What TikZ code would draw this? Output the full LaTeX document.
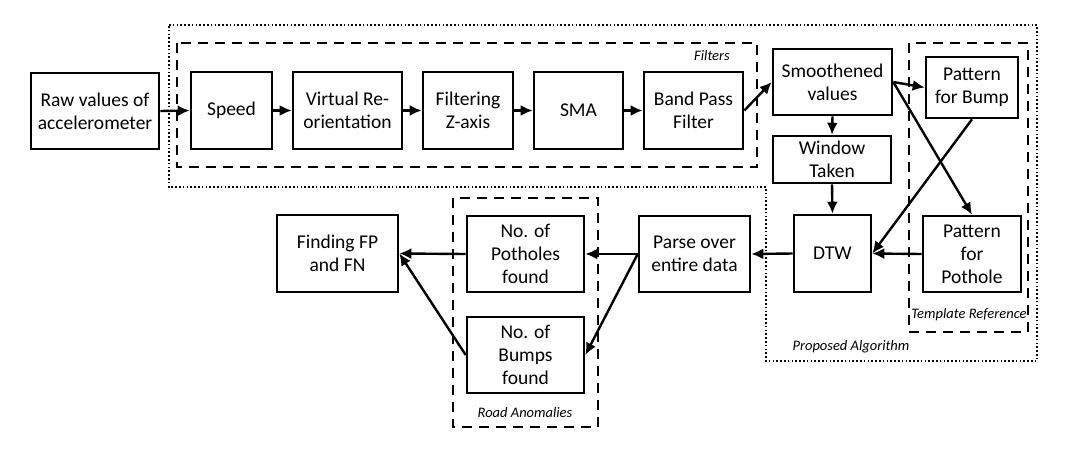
\documentclass[tikz,border=0pt]{standalone}
\usepackage{fontspec}
\setmainfont{Carlito}
\usetikzlibrary{arrows.meta}
\begin{document}
\begin{tikzpicture}[x=1pt,y=-1pt,
  box/.style={draw=black,line width=2.6pt,fill=white,align=center,inner sep=2pt,
    font=\fontsize{19.5}{23}\selectfont},
  arr/.style={line width=2.4pt,-{Latex[length=12pt,width=11pt]}},
  dotbox/.style={line width=2.4pt,dash pattern=on 1.6pt off 2.2pt},
  dashbox/.style={line width=2.8pt,dash pattern=on 10pt off 7pt},
  lab/.style={inner sep=0pt,font=\fontsize{14.5}{17}\selectfont\itshape}]
\useasboundingbox (0,0) rectangle (1066,458);
% containers
\draw[dotbox] (169,25) -- (1037,25) -- (1037,361) -- (766,361) -- (766,187) -- (169,187) -- cycle;
\draw[dashbox] (177,43) rectangle (757,167);
\draw[dashbox] (909,43) rectangle (1028,332);
\draw[dashbox] (453,198) rectangle (598,427);
\node[lab] (lfilters) at (712,56) {Filters};
\node[lab] (ltemplate) at (969,315) {Template Reference};
\node[lab] (lproposed) at (851,347) {Proposed Algorithm};
\node[lab] (lroad) at (525,413) {Road Anomalies};
% boxes
\node[box,minimum width=128pt,minimum height=76pt] (raw) at (95,111) {Raw values of\\accelerometer};
\node[box,minimum width=81pt,minimum height=77pt] (speed) at (231.5,110.5) {Speed};
\node[box,minimum width=109pt,minimum height=77pt] (virt) at (347.5,110.5) {Virtual Re-\\orientation};
\node[box,minimum width=90pt,minimum height=77pt] (filt) at (468,110.5) {Filtering\\Z-axis};
\node[box,minimum width=89pt,minimum height=77pt] (sma) at (578.5,110.5) {SMA};
\node[box,minimum width=99pt,minimum height=77pt] (bpf) at (693.5,110.5) {Band Pass\\Filter};
\node[box,minimum width=119pt,minimum height=66pt] (smooth) at (832.5,82) {Smoothened\\values};
\node[box,minimum width=118pt,minimum height=47pt] (window) at (832,159.5) {Window\\Taken};
\node[box,minimum width=92pt,minimum height=61pt] (bump) at (972,87.5) {Pattern\\for Bump};
\node[box,minimum width=98pt,minimum height=76pt] (pothole) at (972,254) {Pattern\\for\\Pothole};
\node[box,minimum width=77pt,minimum height=77pt] (dtw) at (832.5,253.5) {DTW};
\node[box,minimum width=111pt,minimum height=76pt] (parse) at (694.5,254) {Parse over\\entire data};
\node[box,minimum width=117pt,minimum height=76pt] (potholes) at (525.5,254) {No. of\\Potholes\\found};
\node[box,minimum width=117pt,minimum height=76pt] (bumps) at (525.5,355) {No. of\\Bumps\\found};
\node[box,minimum width=121pt,minimum height=77pt] (fpfn) at (337.5,253.5) {Finding FP\\and FN};
% connectors
\draw[arr] (raw.east) -- (speed.west);
\draw[arr] (speed.east) -- (virt.west);
\draw[arr] (virt.east) -- (filt.west);
\draw[arr] (filt.east) -- (sma.west);
\draw[arr] (sma.east) -- (bpf.west);
\draw[arr] (bpf.east) -- (smooth.west);
\draw[arr] (smooth.south) -- (window.north);
\draw[arr] (window.south) -- (dtw.north);
\draw[arr] (smooth.east) -- (bump.west);
\draw[arr] (smooth.east) -- (pothole.north);
\draw[arr] (bump.south) -- (dtw.east);
\draw[arr] (pothole.west) -- (dtw.east);
\draw[arr] (dtw.west) -- (parse.east);
\draw[arr] (parse.west) -- (potholes.east);
\draw[arr] (parse.west) -- (bumps.east);
\draw[arr] (potholes.west) -- (fpfn.east);
\draw[arr] (bumps.west) -- (fpfn.east);
\end{tikzpicture}
\end{document}
